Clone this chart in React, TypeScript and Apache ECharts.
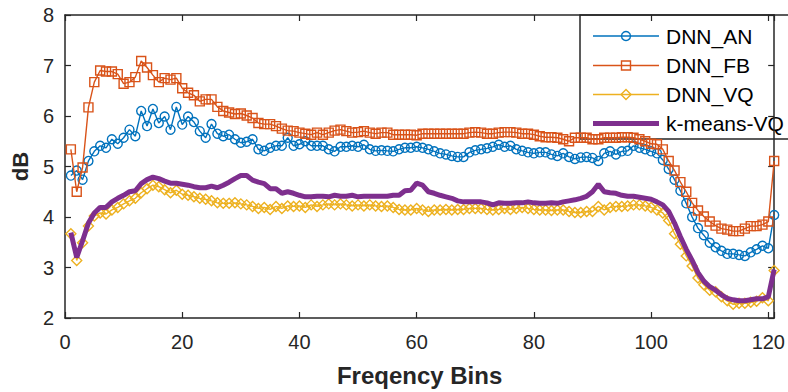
import React, { useEffect, useRef } from "react";
import * as echarts from "echarts";

const bins: number[] = Array.from({ length: 121 }, (_, i) => i + 1);

const dnnAN: number[] = [
  4.82, 4.92, 4.74, 5.11, 5.30, 5.41, 5.37, 5.54, 5.45, 5.57,
  5.73, 5.60, 6.10, 5.80, 6.14, 5.86, 5.99, 5.73, 6.18, 5.83,
  5.99, 5.88, 5.70, 5.57, 5.84, 5.65, 5.60, 5.63, 5.54, 5.47,
  5.49, 5.54, 5.34, 5.31, 5.37, 5.41, 5.41, 5.57, 5.41, 5.44,
  5.50, 5.41, 5.41, 5.41, 5.34, 5.30, 5.39, 5.39, 5.41, 5.39,
  5.43, 5.34, 5.31, 5.32, 5.31, 5.30, 5.34, 5.37, 5.37, 5.39,
  5.37, 5.34, 5.30, 5.26, 5.24, 5.21, 5.19, 5.19, 5.28, 5.32,
  5.34, 5.36, 5.39, 5.43, 5.39, 5.41, 5.34, 5.31, 5.28, 5.26,
  5.28, 5.28, 5.24, 5.21, 5.26, 5.19, 5.15, 5.18, 5.19, 5.17,
  5.11, 5.26, 5.30, 5.24, 5.30, 5.31, 5.41, 5.37, 5.34, 5.30,
  5.26, 5.13, 4.95, 4.74, 4.52, 4.27, 4.00, 3.78, 3.64, 3.49,
  3.40, 3.33, 3.27, 3.27, 3.25, 3.23, 3.30, 3.36, 3.43, 3.38,
  4.04,
];

const dnnFB: number[] = [
  5.34, 4.50, 4.98, 6.17, 6.67, 6.90, 6.88, 6.88, 6.83, 6.64,
  6.67, 6.77, 7.09, 6.96, 6.81, 6.67, 6.75, 6.72, 6.75, 6.55,
  6.46, 6.41, 6.29, 6.33, 6.33, 6.18, 6.10, 6.07, 6.04, 6.05,
  6.01, 5.96, 5.86, 5.84, 5.84, 5.80, 5.75, 5.71, 5.70, 5.67,
  5.65, 5.63, 5.67, 5.63, 5.67, 5.71, 5.73, 5.70, 5.67, 5.68,
  5.70, 5.67, 5.65, 5.67, 5.67, 5.63, 5.63, 5.63, 5.63, 5.62,
  5.65, 5.65, 5.65, 5.65, 5.65, 5.65, 5.65, 5.65, 5.67, 5.68,
  5.67, 5.65, 5.65, 5.67, 5.68, 5.68, 5.67, 5.65, 5.65, 5.63,
  5.60, 5.58, 5.58, 5.57, 5.54, 5.50, 5.57, 5.57, 5.57, 5.54,
  5.54, 5.57, 5.57, 5.57, 5.58, 5.58, 5.57, 5.54, 5.50, 5.45,
  5.44, 5.34, 5.11, 4.92, 4.69, 4.50, 4.28, 4.13, 4.01, 3.91,
  3.83, 3.77, 3.75, 3.72, 3.72, 3.77, 3.82, 3.82, 3.85, 3.91,
  5.11,
];

const dnnVQ: number[] = [
  3.67, 3.14, 3.49, 3.82, 4.02, 4.08, 4.06, 4.14, 4.19, 4.26,
  4.32, 4.37, 4.48, 4.56, 4.63, 4.60, 4.54, 4.48, 4.53, 4.45,
  4.43, 4.40, 4.37, 4.35, 4.32, 4.28, 4.27, 4.27, 4.28, 4.26,
  4.24, 4.21, 4.17, 4.19, 4.15, 4.21, 4.17, 4.22, 4.21, 4.22,
  4.19, 4.24, 4.21, 4.24, 4.26, 4.24, 4.26, 4.24, 4.22, 4.24,
  4.22, 4.24, 4.22, 4.21, 4.22, 4.19, 4.15, 4.14, 4.14, 4.17,
  4.14, 4.11, 4.14, 4.14, 4.15, 4.14, 4.15, 4.15, 4.17, 4.17,
  4.17, 4.15, 4.14, 4.15, 4.17, 4.15, 4.17, 4.19, 4.17, 4.15,
  4.14, 4.14, 4.13, 4.14, 4.14, 4.11, 4.09, 4.09, 4.11, 4.11,
  4.21, 4.14, 4.19, 4.21, 4.21, 4.22, 4.24, 4.24, 4.22, 4.19,
  4.14, 4.08, 3.93, 3.67, 3.46, 3.23, 3.03, 2.79, 2.66, 2.55,
  2.52, 2.42, 2.34, 2.27, 2.29, 2.29, 2.31, 2.33, 2.40, 2.34,
  2.94,
];

const kmeansVQ: number[] = [
  3.69, 3.20, 3.53, 3.88, 4.08, 4.19, 4.19, 4.30, 4.37, 4.43,
  4.50, 4.52, 4.66, 4.74, 4.79, 4.76, 4.71, 4.67, 4.67, 4.65,
  4.63, 4.60, 4.58, 4.58, 4.61, 4.58, 4.63, 4.69, 4.76, 4.82,
  4.82, 4.73, 4.69, 4.66, 4.56, 4.56, 4.47, 4.50, 4.47, 4.43,
  4.40, 4.40, 4.41, 4.41, 4.40, 4.43, 4.41, 4.41, 4.43, 4.40,
  4.41, 4.41, 4.41, 4.41, 4.41, 4.43, 4.43, 4.52, 4.53, 4.67,
  4.63, 4.50, 4.47, 4.43, 4.40, 4.37, 4.32, 4.30, 4.30, 4.30,
  4.30, 4.28, 4.24, 4.28, 4.27, 4.27, 4.28, 4.28, 4.30, 4.28,
  4.27, 4.27, 4.28, 4.27, 4.30, 4.32, 4.34, 4.37, 4.41, 4.50,
  4.65, 4.50, 4.48, 4.47, 4.43, 4.41, 4.41, 4.39, 4.37, 4.35,
  4.30, 4.24, 4.11, 3.88, 3.61, 3.36, 3.14, 2.90, 2.73, 2.62,
  2.55, 2.46, 2.39, 2.36, 2.34, 2.34, 2.36, 2.38, 2.38, 2.42,
  2.96,
];

const seriesNames = ["DNN_AN", "DNN_FB", "DNN_VQ", "k-means-VQ"];
const colors = ["#0072BD", "#D95319", "#EDB120", "#7E2F8E"];
const symbols = ["circle", "rect", "diamond", "none"];

const FONT = "'Liberation Sans', Arial, Helvetica, sans-serif";
const AXIS_COLOR = "#262626";

export default function App() {
  const ref = useRef<HTMLDivElement>(null);

  useEffect(() => {
    if (!ref.current) return;
    const chart = echarts.init(ref.current, null, { renderer: "svg" });
    const allData = [dnnAN, dnnFB, dnnVQ, kmeansVQ];

    const series = allData.map((vals, i) => {
      const isKm = i === 3;
      return {
        name: seriesNames[i],
        type: "line",
        data: bins.map((b, j) => [b, vals[j]]),
        symbol: symbols[i],
        symbolSize: i === 2 ? 10 : 9,
        showSymbol: !isKm,
        lineStyle: { color: colors[i], width: isKm ? 5 : 1.4 },
        itemStyle: {
          color: "rgba(255,255,255,0)",
          borderColor: colors[i],
          borderWidth: 1.4,
        },
        emphasis: { disabled: true },
        z: 2 + i,
      };
    });

    const legendX = 580;
    const legendTop = 15;
    const rowYs = [36, 65.5, 94.5, 123.5];
    const lineX1 = 593;
    const lineX2 = 659;
    const markX = 626;
    const legendChildren: any[] = [
      {
        type: "rect",
        shape: { x: legendX, y: legendTop, width: 230, height: 124 },
        style: { fill: "#ffffff", stroke: AXIS_COLOR, lineWidth: 1.5 },
      },
    ];
    rowYs.forEach((y, i) => {
      legendChildren.push({
        type: "line",
        shape: { x1: lineX1, y1: y, x2: lineX2, y2: y },
        style: { stroke: colors[i], lineWidth: i === 3 ? 5 : 1.4 },
      });
      if (i === 0) {
        legendChildren.push({
          type: "circle",
          shape: { cx: markX, cy: y, r: 4.5 },
          style: { fill: "rgba(255,255,255,0)", stroke: colors[i], lineWidth: 1.4 },
        });
      } else if (i === 1) {
        legendChildren.push({
          type: "rect",
          shape: { x: markX - 4.5, y: y - 4.5, width: 9, height: 9 },
          style: { fill: "rgba(255,255,255,0)", stroke: colors[i], lineWidth: 1.4 },
        });
      } else if (i === 2) {
        legendChildren.push({
          type: "polygon",
          shape: {
            points: [
              [markX, y - 5],
              [markX + 5, y],
              [markX, y + 5],
              [markX - 5, y],
            ],
          },
          style: { fill: "rgba(255,255,255,0)", stroke: colors[i], lineWidth: 1.4 },
        });
      }
      legendChildren.push({
        type: "text",
        x: 666,
        y: y,
        style: {
          text: seriesNames[i],
          fill: "#000000",
          font: `21px ${FONT}`,
          verticalAlign: "middle",
          align: "left",
        },
      });
    });

    const xCommon = {
      type: "value",
      min: 0,
      max: 121,
      interval: 20,
      splitLine: { show: false },
      axisLine: { show: true, onZero: false, lineStyle: { color: AXIS_COLOR, width: 1.5 } },
      axisTick: { show: true, inside: true, length: 6, lineStyle: { color: AXIS_COLOR, width: 1.2 } },
    };
    const yCommon = {
      type: "value",
      min: 2,
      max: 8,
      interval: 1,
      splitLine: { show: false },
      axisLine: { show: true, onZero: false, lineStyle: { color: AXIS_COLOR, width: 1.5 } },
      axisTick: { show: true, inside: true, length: 6, lineStyle: { color: AXIS_COLOR, width: 1.2 } },
    };

    chart.setOption({
      animation: false,
      grid: { left: 65, right: 9, top: 15, bottom: 69, containLabel: false },
      xAxis: [
        {
          ...xCommon,
          position: "bottom",
          name: "Freqency Bins",
          nameLocation: "middle",
          nameGap: 45,
          nameTextStyle: { fontFamily: FONT, fontSize: 24, fontWeight: "bold", color: AXIS_COLOR },
          axisLabel: {
            show: true,
            margin: 14,
            fontFamily: FONT,
            fontSize: 20,
            color: AXIS_COLOR,
            formatter: (v: number) => (v % 20 === 0 ? String(v) : ""),
          },
        },
        {
          ...xCommon,
          position: "top",
          axisLabel: { show: false },
        },
      ],
      yAxis: [
        {
          ...yCommon,
          position: "left",
          name: "dB",
          nameLocation: "middle",
          nameGap: 31,
          nameRotate: 90,
          nameTextStyle: { fontFamily: FONT, fontSize: 22, fontWeight: "bold", color: AXIS_COLOR },
          axisLabel: { show: true, margin: 11, fontFamily: FONT, fontSize: 20, color: AXIS_COLOR },
        },
        {
          ...yCommon,
          position: "right",
          axisLabel: { show: false },
        },
      ],
      series,
      graphic: [{ type: "group", z: 100, children: legendChildren }],
    });

    return () => {
      chart.dispose();
    };
  }, []);

  return <div ref={ref} style={{ width: 788, height: 392, position: "absolute", left: 0, top: 0 }} />;
}
